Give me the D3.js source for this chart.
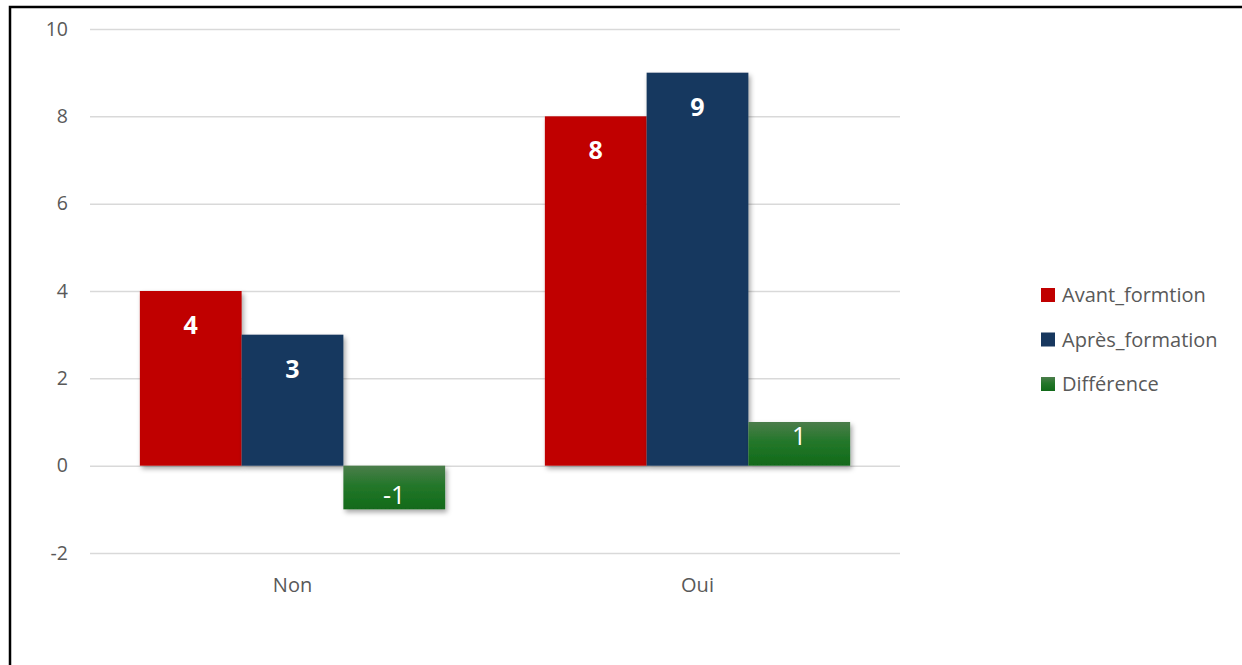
<!DOCTYPE html>
<html>
<head>
<meta charset="utf-8">
<script src="https://cdn.jsdelivr.net/npm/d3@7"></script>
<style>
  html, body { margin: 0; padding: 0; background: #fff; }
  svg { display: block; font-family: "Open Sans", sans-serif; }
</style>
</head>
<body>
<svg id="chart" width="1242" height="665"></svg>
<script>
// Chart data
const categories = ["Non", "Oui"];
const seriesNames = ["Avant_formtion", "Après_formation", "Différence"];
const avantValues = [4, 8];
const apresValues = [3, 9];
const differenceValues = [-1, 1];
const yTicks = [-2, 0, 2, 4, 6, 8, 10];

const seriesValues = [avantValues, apresValues, differenceValues];
const seriesFill = ["#C00000", "#17375E", "url(#greenGrad)"];
const labelWeight = ["bold", "bold", "normal"];

const svg = d3.select("#chart");
const defs = svg.append("defs");

// vertical gradient for the difference bars
const grad = defs.append("linearGradient")
  .attr("id", "greenGrad").attr("x1", 0).attr("y1", 0).attr("x2", 0).attr("y2", 1);
grad.append("stop").attr("offset", "0%").attr("stop-color", "#4B7D4B");
grad.append("stop").attr("offset", "45%").attr("stop-color", "#24772A");
grad.append("stop").attr("offset", "100%").attr("stop-color", "#116A19");

// soft shadow under bars
const shadow = defs.append("filter").attr("id", "barShadow")
  .attr("x", "-20%").attr("y", "-20%").attr("width", "150%").attr("height", "150%");
shadow.append("feDropShadow")
  .attr("dx", 2).attr("dy", 3).attr("stdDeviation", 2.5)
  .attr("flood-color", "#000").attr("flood-opacity", 0.35);

// outer frame
svg.append("rect")
  .attr("x", 10).attr("y", 7).attr("width", 1240).attr("height", 680)
  .attr("fill", "none").attr("stroke", "#000").attr("stroke-width", 2.5);

const plotLeft = 90, plotRight = 900;
const y = d3.scaleLinear().domain([-2, 10]).range([553, 29]);
const x0 = d3.scaleBand().domain(categories).range([plotLeft, plotRight]).padding(0);
const x1 = d3.scaleBand().domain(seriesNames).range([0, x0.bandwidth()])
  .paddingInner(0).paddingOuter(0.49);

// gridlines and tick labels
const yAxis = d3.axisLeft(y).tickValues(yTicks).tickFormat(d => String(d))
  .tickSize(-(plotRight - plotLeft)).tickPadding(22);
const gy = svg.append("g").attr("transform", `translate(${plotLeft},0)`).call(yAxis);
gy.select(".domain").remove();
gy.selectAll(".tick line").attr("stroke", "#D9D9D9").attr("stroke-width", 1.5);
gy.selectAll(".tick text").attr("fill", "#595959").attr("font-size", 19.5)
  .attr("font-family", "'Open Sans', sans-serif");

// category labels
const xAxis = d3.axisBottom(x0).tickSize(0).tickPadding(0);
const gx = svg.append("g").attr("transform", `translate(0,${y(-2) + 25})`).call(xAxis);
gx.select(".domain").remove();
gx.selectAll(".tick text").attr("fill", "#595959").attr("font-size", 20)
  .attr("font-family", "'Open Sans', sans-serif");

// bars
const groups = svg.append("g").selectAll("g")
  .data(categories).join("g")
  .attr("transform", d => `translate(${x0(d)},0)`);

const cells = groups.selectAll("g.cell")
  .data((c, ci) => seriesNames.map((s, si) => ({ s, si, v: seriesValues[si][ci] })))
  .join("g").attr("class", "cell");

cells.append("rect")
  .attr("x", d => x1(d.s))
  .attr("width", x1.bandwidth())
  .attr("y", d => y(Math.max(0, d.v)))
  .attr("height", d => Math.abs(y(d.v) - y(0)))
  .attr("fill", d => seriesFill[d.si])
  .attr("filter", "url(#barShadow)");

// value labels just inside the bar end
cells.append("text")
  .attr("x", d => x1(d.s) + x1.bandwidth() / 2)
  .attr("y", d => {
    const h = Math.abs(y(d.v) - y(0));
    const off = Math.min(34, 0.32 * h);
    return d.v >= 0 ? y(d.v) + off : y(d.v) - off;
  })
  .attr("dy", "0.36em")
  .attr("text-anchor", "middle")
  .attr("fill", "#fff")
  .attr("font-size", 25)
  .attr("font-weight", d => labelWeight[d.si])
  .text(d => d.v);

// legend
const legend = svg.append("g").attr("transform", "translate(1041,295)");
const items = legend.selectAll("g").data(seriesNames).join("g")
  .attr("transform", (d, i) => `translate(0,${i * 44.5})`);
items.append("rect").attr("x", 0).attr("y", -7).attr("width", 14).attr("height", 14)
  .attr("fill", (d, i) => seriesFill[i]);
items.append("text").attr("x", 21).attr("y", 0).attr("dy", "0.36em")
  .attr("fill", "#595959").attr("font-size", 20).text(d => d);
</script>
</body>
</html>
